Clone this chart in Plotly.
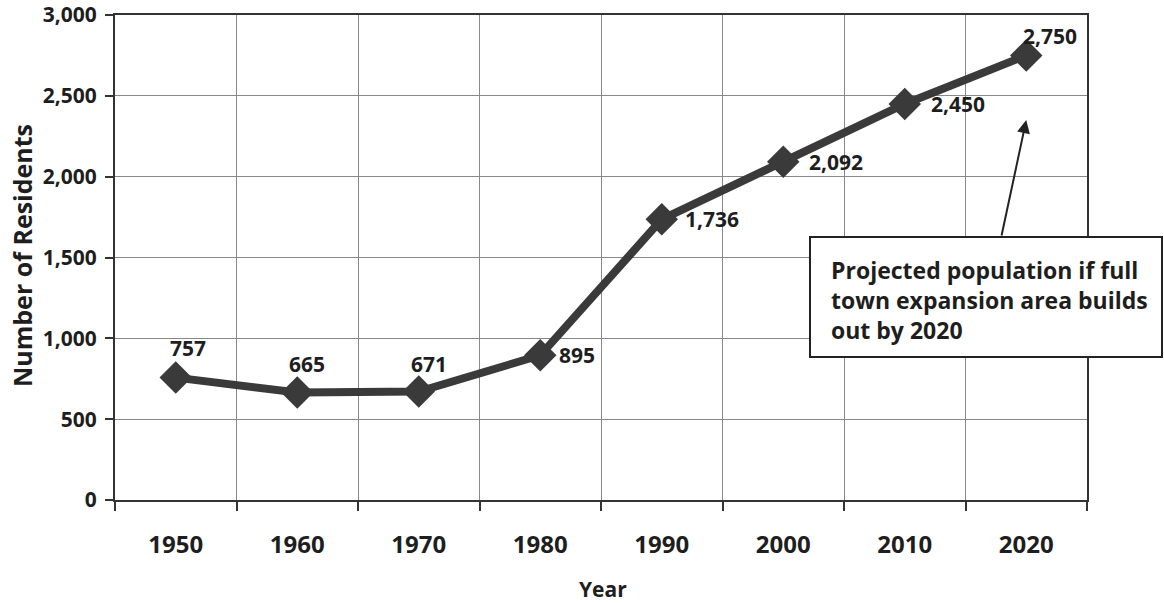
import plotly.graph_objects as go

years = ["1950", "1960", "1970", "1980", "1990", "2000", "2010", "2020"]
residents = [757, 665, 671, 895, 1736, 2092, 2450, 2750]
labels = ["757", "665", "671", "895", "1,736", "2,092", "2,450", "2,750"]
y_ticks = [0, 500, 1000, 1500, 2000, 2500, 3000]
y_ticktext = ["0", "500", "1,000", "1,500", "2,000", "2,500", "3,000"]
note = "Projected population if full<br>town expansion area builds<br>out by 2020"

# label offsets (pixels) relative to each point
label_dx = [12, 10, 10, 37, 50, 53, 53, 24]
label_dy = [30, 28, 28, 0, 0, 0, 0, 19]

FONT = "Open Sans"
DARK = "#3a3a3a"
TXT = "#1e1e1e"

W, H = 1164, 603
L, T = 115, 15
PW, PH = 972, 485

fig = go.Figure()
fig.add_trace(go.Scatter(
    x=years, y=residents, mode="lines+markers",
    line=dict(color=DARK, width=8),
    marker=dict(symbol="diamond", size=25, color=DARK),
    cliponaxis=False, showlegend=False, hoverinfo="skip",
))

for i, (yv, t, dx, dy) in enumerate(zip(residents, labels, label_dx, label_dy)):
    fig.add_annotation(x=i, y=yv, text="<b>" + t + "</b>", showarrow=False,
                       xshift=dx, yshift=dy, xanchor="center", yanchor="middle",
                       font=dict(family=FONT, size=21, color=TXT))

fig.update_layout(
    width=W, height=H,
    margin=dict(l=L, r=W - L - PW, t=T, b=H - T - PH),
    paper_bgcolor="white", plot_bgcolor="white",
    font=dict(family=FONT, color=TXT),
    xaxis=dict(
        type="category", range=[-0.5, 7.5], tickson="boundaries",
        ticks="outside", ticklen=9, tickwidth=1.5, tickcolor="#333",
        showgrid=True, gridcolor="#888", gridwidth=1,
        showline=True, linecolor="#333", linewidth=2, mirror=True,
        tickvals=years, ticktext=["<b>" + y + "</b>" for y in years],
        tickfont=dict(family=FONT, size=24, color=TXT),
        automargin=False, ticklabelstandoff=22,
    ),
    yaxis=dict(
        range=[0, 3000], tickvals=y_ticks, ticktext=["<b>" + t + "</b>" for t in y_ticktext],
        ticks="outside", ticklen=8, tickwidth=1.5, tickcolor="#333",
        showgrid=True, gridcolor="#888", gridwidth=1,
        showline=True, linecolor="#333", linewidth=2, mirror=True,
        zeroline=False, automargin=False, ticklabelstandoff=4,
        ticklabeloverflow="allow",
        tickfont=dict(family=FONT, size=21, color=TXT),
    ),
)

# axis titles
fig.add_annotation(xref="paper", yref="paper", x=(603 - L) / PW, y=-(589 - 500) / PH,
                   xanchor="center", yanchor="middle", text="<b>Year</b>", showarrow=False,
                   font=dict(family=FONT, size=21, color=TXT))
fig.add_annotation(xref="paper", yref="paper", x=-(L - 22) / PW, y=(500 - 256) / PH,
                   xanchor="center", yanchor="middle", textangle=-90,
                   text="<b>Number of Residents</b>", showarrow=False,
                   font=dict(family=FONT, size=25, color=TXT))

# callout box
fig.add_shape(type="rect", xref="paper", yref="paper",
              x0=(810 - L) / PW, x1=(1162 - L) / PW,
              y0=(500 - 357) / PH, y1=(500 - 237) / PH,
              line=dict(color="#222", width=2), fillcolor="white", layer="above")
fig.add_annotation(xref="paper", yref="paper",
                   x=(829 - L) / PW, y=(500 - 300) / PH,
                   xanchor="left", yanchor="middle", align="left",
                   text="<b>" + note + "</b>", showarrow=False,
                   font=dict(family=FONT, size=23, color=TXT))
fig.add_annotation(x=len(years) - 1, y=2350, ax=-25, ay=117, axref="pixel", ayref="pixel",
                   text="", showarrow=True, arrowhead=2, arrowsize=1.3,
                   arrowwidth=2, arrowcolor="#222")

fig.write_html("out.html", config={"displayModeBar": False},
               post_script="document.body.style.margin='0';")
